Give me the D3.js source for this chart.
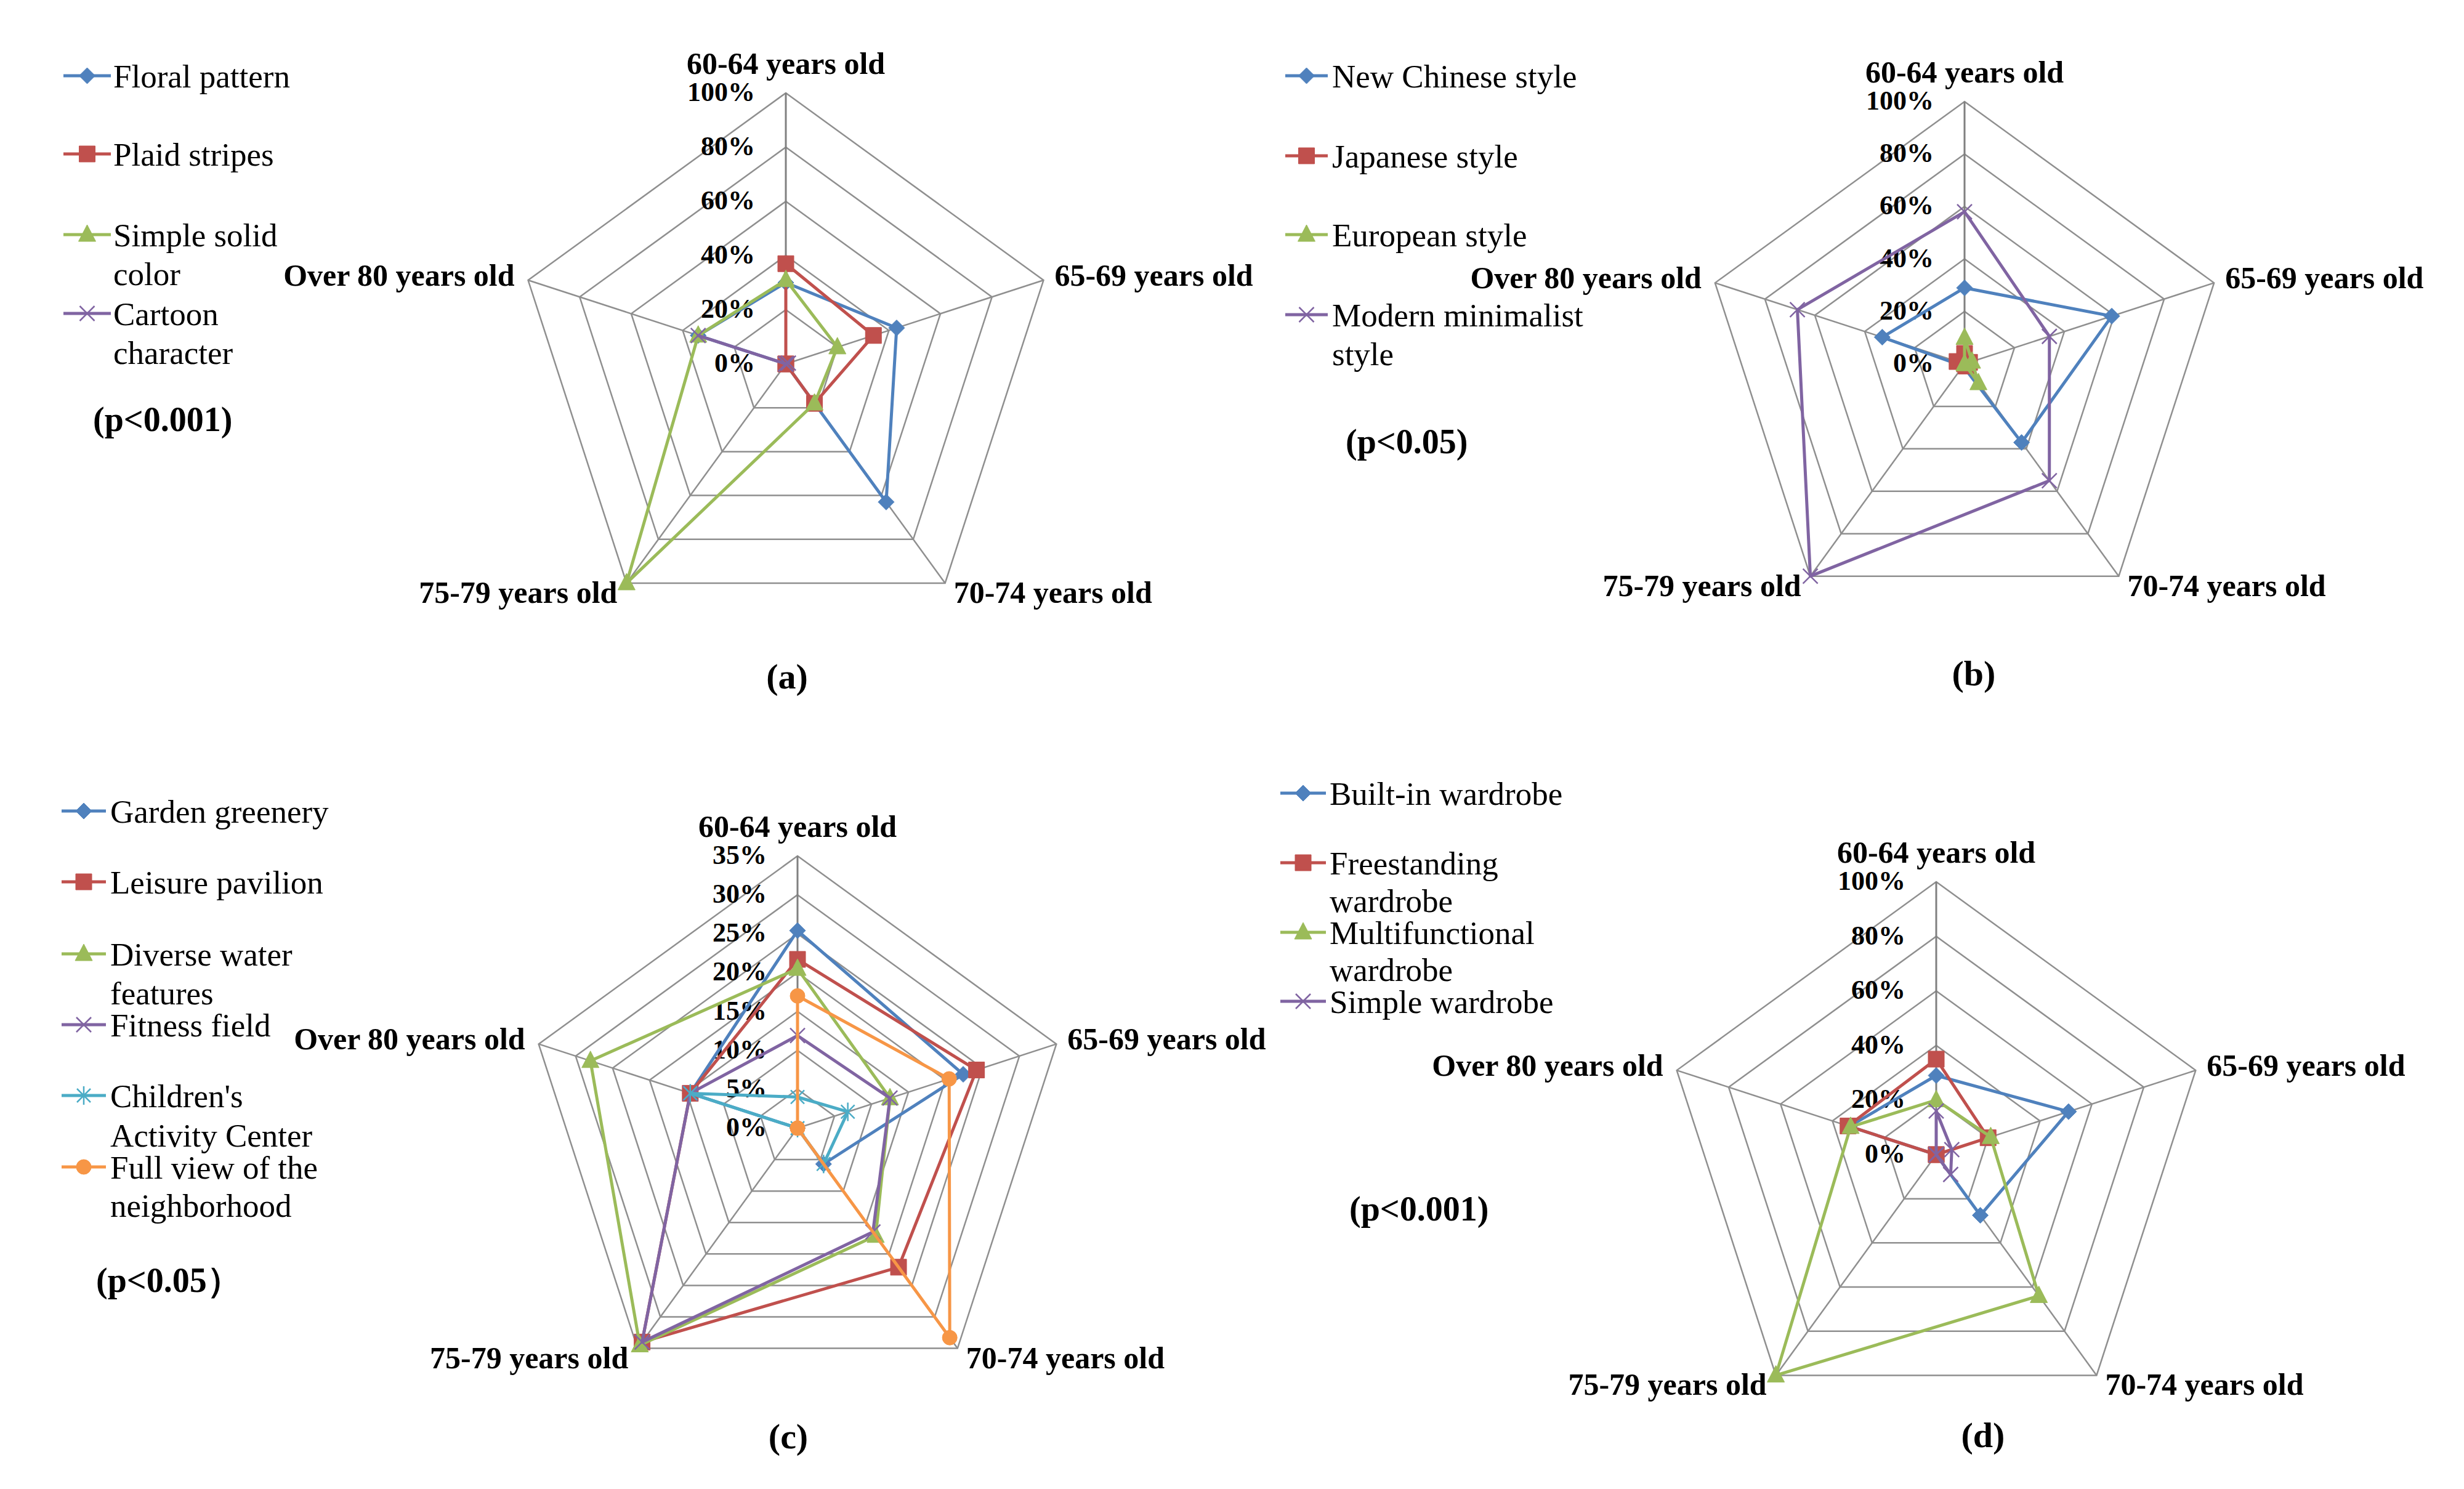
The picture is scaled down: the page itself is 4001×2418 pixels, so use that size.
<!DOCTYPE html>
<html>
<head>
<meta charset="utf-8">
<script src="https://cdn.jsdelivr.net/npm/d3@7"></script>
<style>
body { margin: 0; background: #fff; }
svg { display: block; }
text { font-family: "Liberation Serif", "Times New Roman", serif; fill: #000; }
</style>
</head>
<body>
<svg id="chart" width="4001" height="2418"></svg>
<script>
// axis categories, shared by the four radar panels
var categories = ["60-64 years old", "65-69 years old", "70-74 years old", "75-79 years old", "Over 80 years old"];

var ticksPct = [0, 0.2, 0.4, 0.6, 0.8, 1.0];
var ticksC = [0, 0.05, 0.10, 0.15, 0.20, 0.25, 0.30, 0.35];

// (a) pattern
var legendA = [["Floral pattern"], ["Plaid stripes"], ["Simple solid", "color"], ["Cartoon", "character"]];
var floralPattern = [0.30, 0.43, 0.63, 0.00, 0.34];
var plaidStripes = [0.37, 0.34, 0.18, 0.00, 0.00];
var simpleSolid = [0.31, 0.20, 0.18, 1.00, 0.34];
var cartoonChar = [0.00, 0.01, 0.00, 0.00, 0.34];

// (b) style
var legendB = [["New Chinese style"], ["Japanese style"], ["European style"], ["Modern minimalist", "style"]];
var newChinese = [0.29, 0.59, 0.37, 0.01, 0.33];
var japanese = [0.04, 0.02, 0.01, 0.00, 0.03];
var european = [0.10, 0.03, 0.09, 0.00, 0.00];
var modernMin = [0.58, 0.34, 0.55, 1.00, 0.67];

// (c) landscape
var legendC = [["Garden greenery"], ["Leisure pavilion"], ["Diverse water", "features"], ["Fitness field"],
               ["Children's", "Activity Center"], ["Full view of the", "neighborhood"]];
var gardenGreen = [0.254, 0.224, 0.057, 0.000, 0.145];
var leisurePav = [0.217, 0.242, 0.221, 0.340, 0.145];
var waterFeat = [0.205, 0.125, 0.171, 0.345, 0.280];
var fitnessField = [0.119, 0.125, 0.165, 0.340, 0.145];
var childrenCtr = [0.040, 0.068, 0.057, 0.000, 0.145];
var fullView = [0.170, 0.205, 0.333, 0.000, 0.000];

// (d) wardrobe
var legendD = [["Built-in wardrobe"], ["Freestanding", "wardrobe"], ["Multifunctional", "wardrobe"], ["Simple wardrobe"]];
var builtIn = [0.29, 0.51, 0.275, 0.00, 0.335];
var freestanding = [0.35, 0.20, 0.00, 0.00, 0.34];
var multiFunc = [0.20, 0.21, 0.64, 1.00, 0.33];
var simpleWard = [0.16, 0.06, 0.09, 0.00, 0.00];

var seriesColors = ["#4F81BD", "#C0504D", "#9BBB59", "#8064A2", "#4BACC6", "#F79646"];
var markerKinds = ["diamond", "square", "triangle", "x", "star", "circle"];

var panels = [
    { tag: "(a)", names: legendA, values: [floralPattern, plaidStripes, simpleSolid, cartoonChar], ticks: ticksPct, pText: "(p<0.001)",
      cx: 1276, cy: 591, r: 440, lx0: 103, lx1: 180, tx: 184,
      lines: [[142], [269], [400, 463], [528, 591]], px: 151, py: 700, tagX: 1278, tagY: 1118 },
    { tag: "(b)", names: legendB, values: [newChinese, japanese, european, modernMin], ticks: ticksPct, pText: "(p<0.05)",
      cx: 3190, cy: 591, r: 426, lx0: 2087, lx1: 2156, tx: 2163,
      lines: [[142], [272], [400], [530, 593]], px: 2185, py: 736, tagX: 3205, tagY: 1113 },
    { tag: "(c)", names: legendC, values: [gardenGreen, leisurePav, waterFeat, fitnessField, childrenCtr, fullView], ticks: ticksC, pText: "(p<0.05\uFF09",
      cx: 1295, cy: 1832, r: 442, lx0: 100, lx1: 172, tx: 179,
      lines: [[1336], [1451], [1568, 1631], [1683], [1798, 1862], [1914, 1976]], px: 156, py: 2098, tagX: 1280, tagY: 2352 },
    { tag: "(d)", names: legendD, values: [builtIn, freestanding, multiFunc, simpleWard], ticks: ticksPct, pText: "(p<0.001)",
      cx: 3144, cy: 1875, r: 443, lx0: 2079, lx1: 2153, tx: 2159,
      lines: [[1307], [1420, 1481], [1533, 1593], [1645]], px: 2191, py: 1982, tagX: 3220, tagY: 2350 }
];

// excel-like marker shapes
var symbolTypes = {
    diamond: { draw: function(c) { var h = 13; c.moveTo(0, -h); c.lineTo(h, 0); c.lineTo(0, h); c.lineTo(-h, 0); c.closePath(); } },
    square: { draw: function(c) { var h = 13; c.moveTo(-h, -h); c.lineTo(h, -h); c.lineTo(h, h); c.lineTo(-h, h); c.closePath(); } },
    triangle: { draw: function(c) { c.moveTo(0, -16); c.lineTo(14, 11); c.lineTo(-14, 11); c.closePath(); } },
    x: { draw: function(c) { var h = 12; c.moveTo(-h, -h); c.lineTo(h, h); c.moveTo(h, -h); c.lineTo(-h, h); } },
    star: { draw: function(c) { var h = 11; c.moveTo(-h, -h); c.lineTo(h, h); c.moveTo(h, -h); c.lineTo(-h, h); c.moveTo(0, -15); c.lineTo(0, 15); } },
    circle: { draw: function(c) { c.moveTo(12, 0); c.arc(0, 0, 12, 0, 2 * Math.PI); } }
};

function addMarker(g, kind, color, x, y) {
    var open = (kind === "x" || kind === "star");
    g.append("path")
        .attr("d", d3.symbol().type(symbolTypes[kind])())
        .attr("transform", "translate(" + x + "," + y + ")")
        .style("fill", open ? "none" : color)
        .style("stroke", color)
        .style("stroke-width", open ? 2.5 : 1);
}

var svg = d3.select("#chart");
svg.append("rect").attr("width", 4001).attr("height", 2418).style("fill", "#fff");

// label placement per axis (anchor, dx, dy from the outer vertex)
var catPlace = [
    { anchor: "middle", dx: 0, dy: -31 },
    { anchor: "start", dx: 18, dy: 9 },
    { anchor: "start", dx: 14, dy: 32 },
    { anchor: "end", dx: -15, dy: 32 },
    { anchor: "end", dx: -22, dy: 9 }
];

panels.forEach(function(p) {
    var maxV = p.ticks[p.ticks.length - 1];
    var rScale = d3.scaleLinear().domain([0, maxV]).range([0, p.r]);
    var angle = d3.scaleLinear().domain([0, categories.length]).range([0, 2 * Math.PI]);
    var g = svg.append("g").attr("transform", "translate(" + p.cx + "," + p.cy + ")");

    function pt(i, v) {
        var a = angle(i), rr = rScale(v);
        return [rr * Math.sin(a), -rr * Math.cos(a)];
    }

    // grid rings
    p.ticks.slice(1).forEach(function(t) {
        g.append("path")
            .attr("d", d3.lineRadial().angle(function(d, i) { return angle(i); }).radius(rScale(t)).curve(d3.curveLinearClosed)(categories))
            .style("fill", "none").style("stroke", "#8f8f8f").style("stroke-width", 2.5);
    });
    // spokes
    categories.forEach(function(c, i) {
        var e = pt(i, maxV);
        g.append("line").attr("x1", 0).attr("y1", 0).attr("x2", e[0]).attr("y2", e[1])
            .style("stroke", i === 0 ? "#808080" : "#8f8f8f").style("stroke-width", i === 0 ? 3 : 2.5);
    });
    // tick labels
    var fmt = d3.format(".0%");
    p.ticks.forEach(function(t) {
        g.append("text").attr("x", -50).attr("y", -rScale(t) + 13)
            .attr("text-anchor", "end").style("font-size", "44px").style("font-weight", "bold")
            .text(fmt(t));
    });
    // category labels
    categories.forEach(function(c, i) {
        var e = pt(i, maxV), pl = catPlace[i];
        g.append("text").attr("x", e[0] + pl.dx).attr("y", e[1] + pl.dy)
            .attr("text-anchor", pl.anchor).style("font-size", "50px").style("font-weight", "bold")
            .text(c);
    });

    // series
    var radial = d3.lineRadial()
        .angle(function(d, i) { return angle(i); })
        .radius(function(d) { return rScale(d); })
        .curve(d3.curveLinearClosed);
    p.values.forEach(function(vals, k) {
        var col = seriesColors[k];
        g.append("path").attr("d", radial(vals))
            .style("fill", "none").style("stroke", col).style("stroke-width", 5).style("stroke-linejoin", "round");
        vals.forEach(function(v, i) {
            var q = pt(i, v);
            addMarker(g, markerKinds[k], col, q[0], q[1]);
        });
    });

    // legend
    p.names.forEach(function(lines, k) {
        var col = seriesColors[k];
        var ly = p.lines[k][0] - 19;
        svg.append("line").attr("x1", p.lx0).attr("x2", p.lx1).attr("y1", ly).attr("y2", ly)
            .style("stroke", col).style("stroke-width", 5);
        addMarker(svg, markerKinds[k], col, (p.lx0 + p.lx1) / 2, ly);
        lines.forEach(function(s, j) {
            svg.append("text").attr("x", p.tx).attr("y", p.lines[k][j])
                .style("font-size", "53px").text(s);
        });
    });

    svg.append("text").attr("x", p.px).attr("y", p.py)
        .style("font-size", "56px").style("font-weight", "bold").text(p.pText);
    svg.append("text").attr("x", p.tagX).attr("y", p.tagY).attr("text-anchor", "middle")
        .style("font-size", "58px").style("font-weight", "bold").text(p.tag);
});
</script>
</body>
</html>
